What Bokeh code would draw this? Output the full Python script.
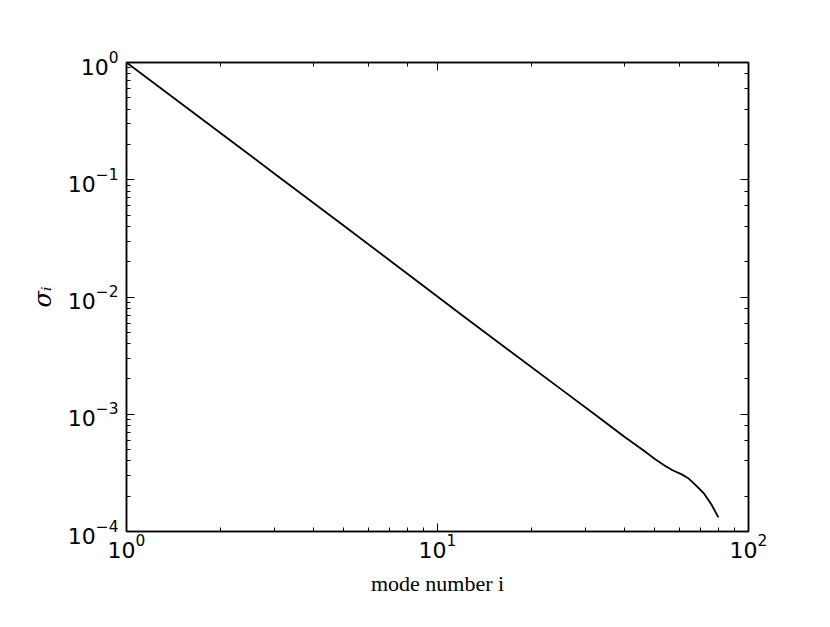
from bokeh.plotting import figure
from bokeh.models import LogAxis, Range1d
from bokeh.embed import file_html
from bokeh.resources import INLINE

# mode number i and singular values sigma_i
mode_i = [1, 2, 3, 5, 8, 12, 18, 25, 32, 40, 46, 50, 54, 57, 61, 64, 68, 72, 76, 80]
sigma = [1.0, 0.252, 0.112, 0.0405, 0.0158, 0.0070, 0.00312, 0.00163,
         0.00100, 0.00064, 0.00049, 0.000415, 0.000362, 0.000333, 0.000307,
         0.000285, 0.000245, 0.000210, 0.000170, 0.000132]

x_label = "mode number i"
y_label = "σᵢ"

p = figure(x_axis_type="log", y_axis_type="log",
           x_range=Range1d(1, 100), y_range=Range1d(1e-4, 1),
           frame_width=622, frame_height=469,
           min_border_left=126, min_border_top=62,
           min_border_right=66, min_border_bottom=80,
           output_backend="svg", toolbar_location=None,
           background_fill_color="white", border_fill_color="white")

p.line(mode_i, sigma, line_color="black", line_width=1.8)

p.xgrid.visible = False
p.ygrid.visible = False
p.outline_line_color = "black"
p.outline_line_width = 1.5

p.add_layout(LogAxis(), "above")
p.add_layout(LogAxis(), "right")

for ax in p.axis:
    ax.axis_line_width = 1.5
    ax.axis_line_color = "black"
    ax.major_tick_in = 8
    ax.major_tick_out = 0
    ax.minor_tick_in = 4
    ax.minor_tick_out = 0
    ax.major_tick_line_color = "black"
    ax.minor_tick_line_color = "black"
    ax.major_tick_line_width = 1
    ax.minor_tick_line_width = 1
    ax.major_label_text_font = "DejaVu Sans"
    ax.major_label_text_font_size = "22px"
    ax.major_label_text_color = "black"

for ax in p.above + p.right:
    ax.major_label_text_font_size = "0px"
    ax.major_label_text_alpha = 0

xa = p.below[0]
xa.axis_label = x_label
xa.axis_label_text_font = "Liberation Serif"
xa.axis_label_text_font_style = "normal"
xa.axis_label_text_font_size = "22px"
xa.axis_label_text_color = "black"
xa.axis_label_standoff = 10
xa.major_label_standoff = 2

ya = p.left[0]
ya.axis_label = y_label
ya.axis_label_text_font = "DejaVu Serif"
ya.axis_label_text_font_style = "italic"
ya.axis_label_text_font_size = "24px"
ya.axis_label_text_color = "black"
ya.axis_label_standoff = 8
ya.major_label_standoff = 8

open("out.html", "w").write(file_html(p, INLINE))
